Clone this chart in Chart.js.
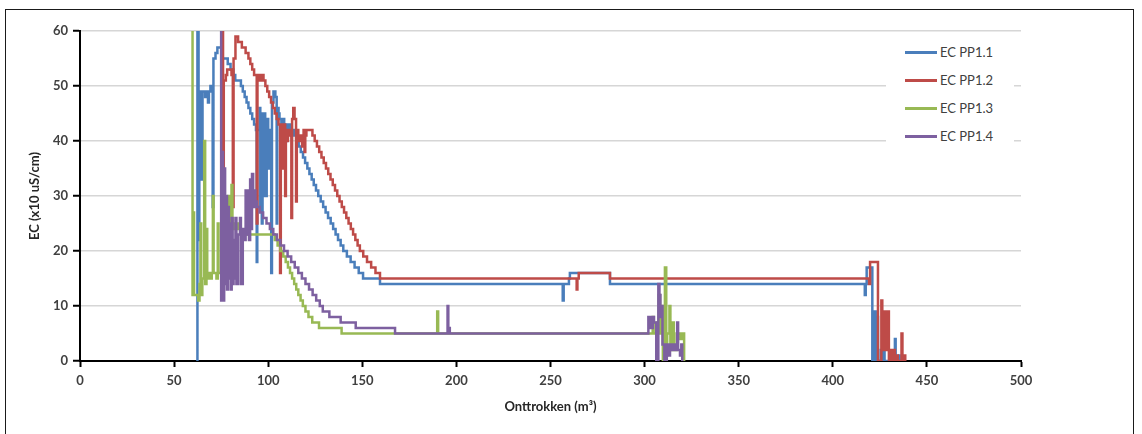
<!DOCTYPE html>
<html>
<head>
<meta charset="utf-8">
<script src="https://cdn.jsdelivr.net/npm/chart.js@4.4.0/dist/chart.umd.min.js"></script>
<style>
  html, body { margin: 0; padding: 0; background: #fff; width: 1142px; height: 434px; overflow: hidden; }
  #frame { position: absolute; left: 5px; top: 9px; width: 1127px; height: 440px; border: 1.5px solid #1a1a1a; }
  #c { position: absolute; left: 0; top: 0; }
  #legend { position: absolute; left: 886px; top: 34px; width: 128px; height: 110px; background: #fff;
            font: 13px Lato, sans-serif; color: #404040; }
  .row { position: absolute; left: 19px; height: 16px; display: flex; align-items: center; white-space: nowrap; }
  .swatch { width: 32px; height: 3px; margin-right: 3px; }
</style>
</head>
<body>
<div id="frame"></div>
<canvas id="c" width="1142" height="434"></canvas>
<div id="legend"></div>
<script>
// series names
const seriesNames = ['EC PP1.1', 'EC PP1.2', 'EC PP1.3', 'EC PP1.4'];

// EC PP1.1 (x = m3 withdrawn, y = EC x10 uS/cm)
const pp11X = [62.0, 62.4, 63.0, 63.4, 64.3, 64.7, 65.1, 66.5, 67.0, 68.0, 68.5, 69.3, 70.5, 70.9, 72.0, 73.0, 75.5, 78.5, 80.0, 81.5,
  82.5, 85.5, 86.5, 87.5, 88.5, 89.5, 90.5, 91.5, 92.5, 93.5, 93.9, 94.2, 95.4, 95.8, 96.2, 96.6, 97.0, 97.4, 97.8, 98.4,
  98.8, 99.2, 100.0, 100.5, 101.0, 101.6, 102.0, 102.8, 103.8, 104.5, 104.8, 105.5, 106.0, 107.0, 107.4, 108.5, 109.5, 109.8, 110.5, 111.5,
  112.5, 113.2, 114.0, 115.0, 116.2, 117.3, 118.5, 119.6, 120.8, 121.9, 123.1, 124.2, 125.4, 126.6, 127.9, 129.2, 130.5, 131.8, 133.2, 134.5,
  135.8, 137.1, 138.5, 139.9, 141.8, 143.8, 145.9, 148.1, 150.4, 159.4, 256.5, 257.0, 259.8, 260.3, 281.6, 417.0, 417.5, 418.0, 421.0, 422.3,
  422.8, 423.6, 424.0, 425.5, 426.0, 427.0, 427.5, 430.5, 431.0, 433.0, 433.4, 435.0, 435.5, 437.0];
const pp11Y = [0, 65, 22, 49, 47, 33, 49, 48, 49, 47, 49, 50, 28, 55, 56, 57, 55, 54, 53, 52,
  51, 50, 49, 48, 47, 46, 45, 44, 43, 42, 18, 42, 46, 28, 45, 25, 44, 30, 45, 42,
  30, 44, 42, 35, 42, 16, 47, 49, 48, 25, 46, 45, 44, 36, 44, 43, 40, 43, 42, 43,
  41, 42, 41, 40, 39, 38, 37, 36, 35, 34, 33, 32, 31, 30, 29, 28, 27, 26, 25, 24,
  23, 22, 21, 20, 19, 18, 17, 16, 15, 14, 11, 14, 15, 16, 14, 12, 14, 17, 0, 9,
  0, 8, 0, 2, 0, 3, 0, 1, 0, 4, 0, 1, 0, 0];

// EC PP1.2
const pp12X = [75.4, 76.0, 76.4, 77.5, 78.2, 80.5, 81.2, 81.6, 82.6, 84.0, 86.0, 88.0, 89.5, 90.5, 91.5, 92.5, 93.9, 94.3, 95.3, 96.5,
  97.5, 98.5, 99.5, 100.5, 101.5, 102.5, 103.5, 104.5, 105.5, 106.3, 106.7, 107.5, 108.0, 108.4, 109.0, 109.4, 110.0, 110.5, 111.5, 112.3,
  112.7, 113.3, 114.0, 114.8, 115.2, 116.0, 117.0, 118.0, 118.8, 119.3, 119.7, 120.3, 123.5, 124.7, 125.9, 127.1, 128.3, 129.5, 130.7, 131.9,
  133.1, 134.3, 135.5, 136.7, 137.9, 139.1, 140.3, 141.5, 142.7, 143.9, 145.1, 146.3, 147.5, 148.7, 150.5, 152.5, 154.7, 157.0, 159.4, 263.9,
  264.3, 265.0, 281.6, 419.3, 419.8, 424.0, 425.8, 426.3, 427.5, 428.0, 429.3, 429.8, 431.0, 431.5, 432.5, 433.0, 434.0, 434.5, 436.5, 437.0,
  438.0, 438.5, 439.0];
const pp12Y = [65, 30, 51, 52, 53, 52, 28, 55, 59, 58, 57, 56, 55, 54, 53, 52, 25, 52, 51, 52,
  51, 50, 49, 48, 47, 46, 45, 44, 43, 16, 43, 42, 35, 43, 30, 42, 40, 42, 41, 26,
  44, 46, 44, 29, 42, 40, 41, 39, 42, 38, 41, 42, 41, 40, 39, 38, 37, 36, 35, 34,
  33, 32, 31, 30, 29, 28, 27, 26, 25, 24, 23, 22, 21, 20, 19, 18, 17, 16, 15, 13,
  15, 16, 15, 14, 18, 0, 11, 2, 9, 2, 9, 0, 2, 0, 2, 0, 1, 0, 5, 0,
  1, 0, 0];

// EC PP1.3
const pp13X = [59.3, 59.8, 60.2, 60.6, 62.8, 63.5, 64.0, 64.4, 65.0, 66.0, 66.5, 67.2, 67.6, 68.5, 69.0, 70.0, 70.6, 71.0, 72.5, 73.2,
  73.6, 77.0, 77.5, 79.0, 79.5, 80.5, 81.0, 82.0, 83.0, 84.0, 85.5, 103.5, 105.0, 106.5, 108.0, 109.3, 110.5, 111.6, 112.7, 113.8,
  114.9, 116.0, 117.2, 118.4, 119.8, 121.4, 123.4, 127.0, 139.0, 189.8, 190.3, 304.3, 304.8, 306.5, 307.5, 308.2, 309.0, 309.7, 310.8, 311.5,
  312.0, 313.2, 313.7, 315.0, 315.5, 317.0, 319.0, 320.0, 321.0, 321.5];
const pp13Y = [65, 12, 27, 12, 11, 14, 25, 12, 15, 40, 14, 24, 15, 16, 15, 16, 30, 16, 15, 25,
  16, 25, 16, 30, 24, 32, 25, 24, 25, 24, 23, 22, 21, 20, 19, 18, 17, 16, 15, 14,
  13, 12, 11, 10, 9, 8, 7, 6, 5, 9, 5, 8, 5, 7, 12, 5, 10, 0, 17, 1,
  5, 10, 2, 7, 2, 5, 4, 5, 0, 0];

// EC PP1.4
const pp14X = [74.4, 75.0, 75.6, 76.0, 76.6, 77.1, 77.6, 78.1, 78.6, 79.1, 79.6, 80.1, 80.6, 81.1, 81.6, 82.1, 82.6, 83.1, 84.0, 85.0,
  85.5, 86.5, 87.5, 88.0, 88.5, 89.3, 89.8, 90.4, 91.0, 91.4, 92.0, 92.6, 93.2, 93.9, 95.5, 97.3, 99.1, 100.9, 102.7, 104.6,
  106.5, 108.4, 110.3, 112.2, 114.1, 116.0, 117.9, 119.8, 121.7, 123.6, 125.5, 127.4, 129.0, 132.5, 138.5, 146.5, 167.4, 195.3, 195.7, 196.5,
  302.0, 302.6, 303.2, 303.8, 304.4, 305.0, 306.2, 307.3, 307.9, 308.4, 308.9, 309.5, 310.5, 311.8, 312.5, 313.5, 314.5, 315.5, 316.5, 317.3,
  317.8, 318.8, 319.5, 320.0, 320.5];
const pp14Y = [65, 11, 38, 11, 35, 14, 30, 13, 28, 15, 25, 13, 26, 14, 22, 15, 26, 14, 23, 26,
  14, 24, 22, 31, 23, 31, 22, 33, 24, 34, 28, 31, 29, 28, 27, 26, 25, 24, 23, 22,
  21, 20, 19, 18, 17, 16, 15, 14, 13, 12, 11, 10, 9, 8, 7, 6, 5, 10, 6, 5,
  8, 6, 8, 6, 8, 7, 0, 14, 12, 8, 10, 3, 0, 3, 1, 3, 2, 3, 2, 7,
  2, 1, 3, 0, 0];

const xTicks = [0, 50, 100, 150, 200, 250, 300, 350, 400, 450, 500];
const yTicks = [0, 10, 20, 30, 40, 50, 60];

const pts = (xs, ys) => xs.map((x, i) => ({ x: x, y: ys[i] }));

const colors = ['#4a7ebb', '#be4b48', '#98b954', '#7d60a0'];
const series = [[pp11X, pp11Y], [pp12X, pp12Y], [pp13X, pp13Y], [pp14X, pp14Y]];

const tickFont = { family: 'Lato', size: 13, weight: 'bold' };

const chart = new Chart(document.getElementById('c'), {
  type: 'line',
  data: {
    datasets: series.map((s, i) => ({
      label: seriesNames[i],
      data: pts(s[0], s[1]),
      borderColor: colors[i],
      backgroundColor: colors[i],
      borderWidth: 2.5,
      pointRadius: 0,
      stepped: true,
      order: 4 - i // later series drawn on top, like the original
    }))
  },
  options: {
    responsive: false,
    animation: false,
    devicePixelRatio: 1,
    layout: { padding: { left: 27, top: 31, right: 121, bottom: 19 } },
    plugins: { legend: { display: false }, tooltip: { enabled: false } },
    scales: {
      x: {
        type: 'linear',
        min: xTicks[0],
        max: xTicks[xTicks.length - 1],
        afterFit: (s) => { s.height = 54; },
        afterBuildTicks: (s) => { s.ticks = xTicks.map(v => ({ value: v })); },
        ticks: { color: '#404040', font: tickFont, padding: 6, maxRotation: 0 },
        grid: { drawOnChartArea: false, tickLength: 6, tickColor: '#000', tickWidth: 2 },
        border: { color: '#000', width: 2 },
        title: { display: true, text: 'Onttrokken (m³)', color: '#262626', font: tickFont, padding: 0 }
      },
      y: {
        min: yTicks[0],
        max: yTicks[yTicks.length - 1],
        afterFit: (s) => { s.width = 53; },
        afterBuildTicks: (s) => { s.ticks = yTicks.map(v => ({ value: v })); },
        ticks: { color: '#404040', font: tickFont, padding: 5 },
        grid: { color: '#d6d6d6', lineWidth: 1.5, tickLength: 7, tickColor: '#000', tickWidth: 2 },
        border: { color: '#000', width: 2 },
        title: { display: true, text: 'EC (x10 uS/cm)', color: '#262626', font: tickFont, padding: 0 }
      }
    }
  }
});

// legend box inside the plot, built from the datasets
const legend = document.getElementById('legend');
chart.data.datasets.forEach((ds, i) => {
  const row = document.createElement('div');
  row.className = 'row';
  row.style.top = (10 + i * 28) + 'px';
  const sw = document.createElement('span');
  sw.className = 'swatch';
  sw.style.background = ds.borderColor;
  const tx = document.createElement('span');
  tx.textContent = ds.label;
  row.appendChild(sw);
  row.appendChild(tx);
  legend.appendChild(row);
});
</script>
</body>
</html>
